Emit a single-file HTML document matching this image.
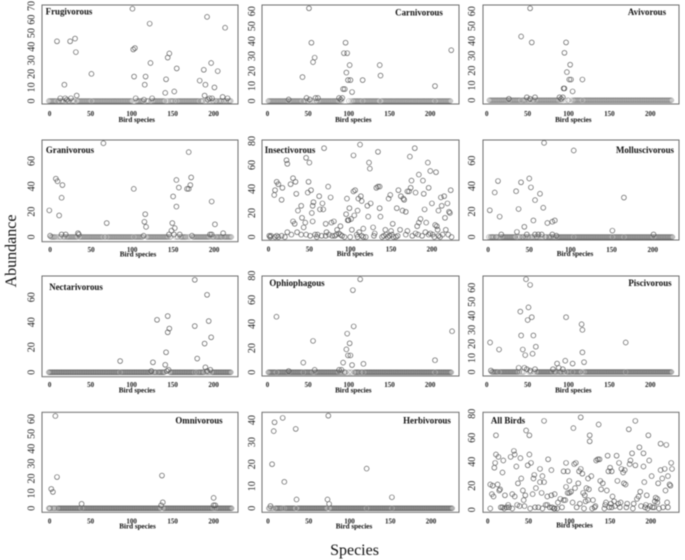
<!DOCTYPE html>
<html lang="en">
<head>
<meta charset="utf-8">
<title>Bird species abundance by feeding guild</title>
<style>
  html, body { margin: 0; padding: 0; background: #fff; }
  #figure { display: block; width: 685px; height: 560px; filter: blur(0.45px); }
  text { font-family: "Liberation Serif", serif; fill: #111; }
  .panel-title { font-size: 8.9px; font-weight: bold; text-anchor: middle; dominant-baseline: central; }
  .x-title { font-size: 7.1px; font-weight: bold; text-anchor: middle; dominant-baseline: central; }
  .x-tick { font-size: 7px; font-weight: bold; text-anchor: middle; dominant-baseline: central; fill: #222; }
  .y-tick { font-size: 10px; text-anchor: middle; dominant-baseline: central; fill: #222; }
  .big-title { font-size: 16px; text-anchor: middle; }
</style>
</head>
<body>
<svg id="figure" xmlns="http://www.w3.org/2000/svg" width="685" height="560" viewBox="0 0 685 560">
  <rect x="0" y="0" width="685" height="560" fill="#fff"/>
  <text class="big-title" transform="translate(16 251) rotate(-90)">Abundance</text>
  <text class="big-title" x="354.5" y="555">Species</text>
</svg>
<script>
// Data: [species index, abundance]. Species not listed have abundance 0.
const xTickLabels = [0, 50, 100, 150, 200];
const yTicks70 = [0, 10, 20, 30, 40, 50, 60, 70];
const yTicks60 = [0, 10, 20, 30, 40, 50, 60];
const yTicks60by20 = [0, 20, 40, 60];
const yTicks80by20 = [0, 20, 40, 60, 80];
const yTicks40 = [0, 10, 20, 30, 40];

const frugivorous = [[10,44],[19,12],[26,44],[32,46],[33,36],[34,4],[52,20],[102,68],[103,38],[105,39],[104,18],[118,18],[117,12],[123,57],[124,28],[142,6],[143,16],[145,32],[147,35],[153,7],[156,24],[184,15],[189,23],[191,12],[190,4],[193,62],[198,28],[202,10],[206,22],[212,3],[215,54],[218,2],[14,2],[20,2],[27,2],[106,2],[116,1],[126,2],[196,2],[199,2],[194,1],[22,1]];
const carnivorous = [[52,62],[55,39],[59,29],[57,26],[44,16],[49,2],[53,1],[60,2],[63,2],[27,1],[89,2],[93,2],[91,1],[94,8],[96,8],[95,32],[99,32],[97,39],[98,19],[102,24],[100,14],[103,14],[105,6],[118,14],[139,24],[140,17],[207,10],[227,34]];
const avivorous = [[54,62],[43,43],[56,39],[98,39],[96,32],[103,24],[99,19],[102,14],[104,14],[118,14],[95,8],[96,8],[106,6],[50,2],[60,2],[28,1],[54,1],[90,2],[94,2],[92,1]];
const granivorous = [[0,21],[8,46],[10,44],[16,41],[15,31],[12,17],[1,1],[15,2],[20,2],[35,3],[36,2],[66,74],[70,11],[103,38],[117,18],[116,12],[118,8],[115,1],[149,5],[150,11],[151,32],[153,7],[152,2],[155,45],[155,24],[158,39],[159,2],[168,38],[170,38],[170,67],[172,41],[173,47],[174,1],[196,2],[198,2],[198,28],[202,10],[212,3],[146,2]];
const insectivorous = [[69,74],[105,68],[113,77],[135,71],[174,67],[180,74],[23,64],[24,61],[47,66],[51,62],[124,62],[125,57],[196,62],[199,55],[206,54],[185,52],[190,47],[176,47],[31,49],[34,46],[11,46],[13,44],[18,41],[17,31],[8,35],[9,39],[28,44],[35,36],[50,46],[49,37],[53,39],[74,42],[77,33],[63,34],[67,28],[64,23],[68,23],[56,29],[55,26],[54,20],[55,13],[31,13],[33,11],[37,22],[41,26],[42,16],[46,12],[44,8],[36,4],[24,4],[71,11],[78,12],[81,13],[85,6],[89,9],[97,32],[96,19],[100,24],[98,14],[99,14],[102,15],[106,18],[103,6],[105,38],[107,39],[110,22],[111,32],[114,34],[115,30],[112,4],[117,7],[122,26],[126,28],[123,17],[129,8],[133,41],[135,42],[137,42],[137,24],[138,17],[144,6],[153,11],[151,5],[148,32],[150,35],[158,24],[160,39],[163,34],[165,22],[166,32],[167,31],[169,21],[162,6],[171,38],[173,38],[175,41],[171,5],[181,37],[183,9],[185,12],[187,15],[191,36],[192,23],[194,12],[197,41],[201,28],[209,22],[212,33],[213,26],[216,34],[217,16],[220,28],[205,10],[207,9],[208,6],[218,6],[214,2],[221,2],[224,39],[222,21],[223,20],[225,0],[2,1],[3,0],[4,1],[9,0],[11,1],[13,0],[17,1],[21,0],[29,2],[41,2],[47,2],[52,1],[58,2],[60,0],[61,2],[66,1],[71,1],[72,4],[75,2],[79,1],[82,1],[84,2],[87,3],[89,2],[91,1],[94,0],[101,0],[109,2],[110,0],[115,1],[117,0],[120,0],[131,3],[130,1],[140,0],[142,1],[145,2],[147,0],[149,1],[152,2],[154,0],[157,0],[159,1],[169,2],[177,1],[181,3],[184,2],[189,1],[193,4],[197,2],[199,3],[202,2],[204,0],[209,1],[211,0]];
const molluscivorous = [[3,21],[9,35],[13,44],[15,16],[17,2],[35,36],[36,4],[38,22],[41,43],[45,8],[48,2],[51,46],[53,39],[56,13],[58,29],[58,2],[62,2],[64,34],[66,2],[68,23],[69,74],[73,11],[79,12],[82,13],[79,2],[84,1],[105,68],[152,5],[166,31],[202,2]];
const nectarivorous = [[87,9],[127,8],[125,1],[132,42],[142,6],[143,16],[145,45],[145,32],[147,35],[146,2],[144,1],[178,74],[178,37],[181,11],[190,23],[191,4],[193,62],[195,41],[198,28],[197,2],[193,1]];
const ophiophagous = [[12,46],[27,1],[45,8],[57,26],[59,2],[89,2],[92,2],[94,8],[98,19],[99,32],[102,24],[100,14],[103,14],[105,6],[106,68],[107,38],[115,77],[119,7],[207,10],[228,34]];
const piscivorous = [[5,21],[6,1],[16,16],[40,3],[42,43],[43,26],[45,16],[48,12],[47,3],[49,66],[51,37],[52,46],[54,62],[50,2],[56,39],[57,13],[58,26],[54,1],[60,2],[61,18],[82,2],[87,6],[89,3],[94,2],[97,8],[98,39],[106,6],[117,34],[118,30],[118,14],[120,7],[171,21]];
const omnivorous = [[8,62],[3,13],[5,11],[10,21],[40,3],[138,22],[137,2],[139,4],[201,7],[201,2],[203,2]];
const herbivorous = [[4,1],[6,20],[8,35],[9,39],[19,41],[21,12],[35,36],[36,4],[74,4],[75,42],[76,2],[122,18],[153,5]];
const allBirds = [[4,21],[7,20],[4,1],[6,13],[8,11],[9,35],[10,39],[11,62],[11,46],[14,44],[13,21],[15,16],[16,17],[19,31],[20,41],[22,12],[17,2],[19,2],[21,1],[24,2],[26,4],[27,2],[29,44],[31,1],[31,13],[33,49],[34,11],[34,46],[36,36],[37,4],[38,22],[40,3],[41,43],[42,26],[44,16],[45,8],[47,12],[46,3],[48,66],[50,37],[52,46],[52,62],[54,39],[53,1],[56,13],[57,26],[58,29],[60,18],[59,2],[63,2],[65,34],[67,14],[65,23],[68,1],[70,23],[68,28],[70,74],[74,11],[72,4],[74,4],[75,42],[79,12],[79,33],[77,2],[80,2],[83,13],[82,1],[83,1],[86,1],[87,6],[90,9],[92,2],[94,8],[96,8],[94,32],[97,39],[99,32],[97,19],[99,14],[101,14],[101,24],[103,15],[105,6],[106,68],[107,38],[109,39],[108,18],[110,2],[112,22],[113,32],[115,77],[115,34],[117,30],[118,14],[120,12],[121,7],[119,1],[114,5],[122,18],[124,8],[124,26],[125,17],[126,62],[126,57],[128,28],[130,8],[129,1],[132,2],[133,3],[134,41],[136,42],[137,71],[138,42],[139,24],[142,22],[140,17],[147,16],[144,1],[145,4],[146,6],[148,45],[149,32],[151,35],[153,32],[154,11],[152,5],[150,2],[153,2],[156,7],[157,3],[159,45],[160,24],[161,5],[162,39],[163,2],[164,6],[165,34],[167,31],[168,22],[169,33],[170,21],[171,2],[172,5],[174,67],[175,38],[176,41],[178,47],[179,1],[180,5],[182,74],[182,37],[184,9],[186,11],[187,52],[188,15],[189,3],[192,47],[192,36],[193,23],[194,2],[196,12],[195,4],[197,1],[198,62],[199,41],[200,3],[202,28],[203,2],[205,2],[206,7],[207,10],[209,9],[209,6],[210,22],[211,1],[213,55],[213,33],[215,26],[216,2],[218,34],[219,16],[220,54],[222,28],[221,6],[222,2],[224,21],[225,20],[226,39],[227,34]];

const svgNS = 'http://www.w3.org/2000/svg';
const figure = document.getElementById('figure');

const panels = [
  { key:'frugivorous', title:'Frugivorous', data:frugivorous, first:0, last:222, band:0.34, yTicks:yTicks70, box:[42,5,238,104], x0:48.8, kx:0.82, y0:101, ky:1.357, tx:69, ty:11.5, yl:32, xly:114, xty:120, xtx:136.7 },
  { key:'carnivorous', title:'Carnivorous', data:carnivorous, first:2, last:227, band:0.34, yTicks:yTicks60, box:[262,5,459,104], x0:266.7, kx:0.813, y0:101, ky:1.495, tx:419, ty:12.7, yl:252.7, xly:114, xty:120, xtx:353.3 },
  { key:'avivorous', title:'Avivorous', data:avivorous, first:4, last:227, band:0.34, yTicks:yTicks60, box:[483,5,679,104], x0:486, kx:0.817, y0:100.3, ky:1.484, tx:647, ty:12, yl:472.3, xly:114, xty:120, xtx:573.3 },
  { key:'granivorous', title:'Granivorous', data:granivorous, first:0, last:222, band:0.36, yTicks:yTicks60by20, box:[42,140,238,241.7], x0:49.3, kx:0.82, y0:237, ky:1.267, tx:70, ty:150, yl:32, xly:250, xty:254.5, xtx:138 },
  { key:'insectivorous', title:'Insectivorous', data:insectivorous, first:1, last:0, band:0.4, yTicks:yTicks80by20, box:[262,140,459,240.3], x0:267.7, kx:0.817, y0:237, ky:1.2, tx:290, ty:150, yl:252.7, xly:249.5, xty:254, xtx:355 },
  { key:'molluscivorous', title:'Molluscivorous', data:molluscivorous, first:2, last:225, band:0.42, yTicks:yTicks60by20, box:[483,140,679,240], x0:487.3, kx:0.823, y0:237, ky:1.272, tx:645, ty:150, yl:472.3, xly:250, xty:254, xtx:575 },
  { key:'nectarivorous', title:'Nectarivorous', data:nectarivorous, first:0, last:222, band:0.48, yTicks:yTicks60by20, box:[42,276,238,376.7], x0:48.8, kx:0.82, y0:372.3, ky:1.25, tx:76, ty:287, yl:32, xly:385, xty:390.7, xtx:137 },
  { key:'ophiophagous', title:'Ophiophagous', data:ophiophagous, first:2, last:228, band:0.48, yTicks:yTicks80by20, box:[262,276,459,376], x0:266.7, kx:0.813, y0:372.3, ky:1.208, tx:297, ty:283, yl:252.7, xly:385, xty:390.7, xtx:353.3 },
  { key:'piscivorous', title:'Piscivorous', data:piscivorous, first:5, last:227, band:0.48, yTicks:yTicks60, box:[483,276,679,376], x0:486, kx:0.817, y0:372, ky:1.405, tx:650, ty:283, yl:472.3, xly:385, xty:390.7, xtx:573.3 },
  { key:'omnivorous', title:'Omnivorous', data:omnivorous, first:0, last:223, band:0.5, yTicks:yTicks60, box:[42,412.3,238,512.3], x0:48.8, kx:0.82, y0:508.3, ky:1.489, tx:199, ty:420.7, yl:32, xly:521.7, xty:526.3, xtx:137.5 },
  { key:'herbivorous', title:'Herbivorous', data:herbivorous, first:2, last:227, band:0.5, yTicks:yTicks40, box:[262,412.3,459,512.3], x0:267.2, kx:0.815, y0:508.3, ky:2.205, tx:427, ty:420.7, yl:252.7, xly:521.7, xty:526.3, xtx:354 },
  { key:'all-birds', title:'All Birds', data:allBirds, first:1, last:0, band:0.4, yTicks:yTicks80by20, box:[483,412.3,679,512.3], x0:487, kx:0.815, y0:509.7, ky:1.2, tx:508, ty:420.7, yl:472.3, xly:521.7, xty:525.5, xtx:574.5 }
];

function make(tag, attrs, parent) {
  const el = document.createElementNS(svgNS, tag);
  for (const k in attrs) el.setAttribute(k, attrs[k]);
  parent.appendChild(el);
  return el;
}

function drawPoint(group, cx, cy, width, ink) {
  const c = make('circle', { cx: cx, cy: cy, r: 2.4, fill: 'none', stroke: ink, 'stroke-width': width }, group);
  
  
}

panels.forEach(function (p) {
  const xScale = function (v) { return p.x0 + p.kx * v; };
  const yScale = function (v) { return p.y0 - p.ky * v; };

  const g = make('g', {}, figure);
  
  

  const frame = make('rect', { x: p.box[0], y: p.box[1], width: p.box[2] - p.box[0], height: p.box[3] - p.box[1], fill: '#fff', stroke: '#6e6e6e', 'stroke-width': 1 }, g);
  
  

  const listed = new Set(p.data.map(function (d) { return d[0]; }));
  for (let s = p.first; s <= p.last; s++) {
    if (!listed.has(s)) drawPoint(g, xScale(s), yScale(0), p.band * 0.8, '#555');
  }
  p.data.forEach(function (d) {
    drawPoint(g, xScale(d[0]), yScale(d[1]), 0.6, '#4a4a4a');
  });

  xTickLabels.forEach(function (v) {
    const t = make('text', { x: xScale(v) + 0.8, y: p.xly, class: 'x-tick' }, g);
    
    
    t.textContent = v;
  });
  p.yTicks.forEach(function (v) {
    const y = yScale(v);
    const t = make('text', { class: 'y-tick', transform: 'translate(' + p.yl + ' ' + y + ') rotate(-90)' }, g);
    
    
    t.textContent = v;
  });

  const xt = make('text', { x: p.xtx, y: p.xty, class: 'x-title' }, g);
  
  
  xt.textContent = 'Bird species';

  const title = make('text', { x: p.tx, y: p.ty, class: 'panel-title' }, g);
  
  
  title.textContent = p.title;
});
</script>
</body>
</html>
